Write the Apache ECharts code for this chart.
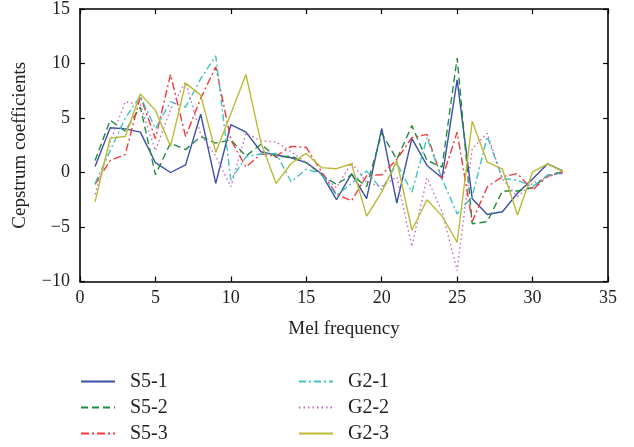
<!DOCTYPE html>
<html>
<head>
<meta charset="utf-8">
<script src="https://cdn.jsdelivr.net/npm/echarts@6/dist/echarts.min.js"></script>
<style>html,body{margin:0;padding:0;background:#fff}#c{width:634px;height:447px}</style>
</head>
<body>
<div id="c"></div>
<script>
const melFrequency = [1,2,3,4,5,6,7,8,9,10,11,12,13,14,15,16,17,18,19,20,21,22,23,24,25,26,27,28,29,30,31,32];
const seriesNames = ['S5-1','S5-2','S5-3','G2-1','G2-2','G2-3'];
const s51 = [0.55,4.1,4.0,3.7,0.9,0.0,0.7,5.35,-1.0,4.4,3.7,1.9,1.6,1.35,0.9,-0.1,-2.5,-0.1,-2.4,4.05,-2.8,3.1,0.65,-0.5,8.5,-2.4,-3.85,-3.6,-1.9,-0.6,0.8,0.15];
const s52 = [1.1,4.8,3.8,6.0,-0.2,2.7,2.1,3.3,2.7,3.0,1.5,2.6,1.4,1.5,0.9,-0.2,-1.1,-0.2,-1.3,3.6,1.2,4.3,1.1,0.5,10.5,-4.7,-4.5,-1.7,-1.7,-1.4,-0.25,0.05];
const s53 = [-1.1,1.1,1.65,7.0,3.1,9.0,3.3,6.8,9.7,3.0,0.5,1.7,1.5,2.4,2.3,0.1,-2.0,-2.6,-0.3,-0.2,1.2,3.2,3.5,-0.6,3.7,-4.5,-1.3,-0.4,-0.1,-1.6,-0.35,0.05];
const g21 = [-1.0,2.0,5.0,7.0,4.0,6.5,6.0,8.6,10.7,-0.7,1.45,1.7,1.75,-0.85,0.3,-0.1,-2.1,-1.0,0.15,-1.6,0.85,-1.8,3.2,-0.6,-3.8,-2.2,3.3,-0.55,-0.7,-1.3,-0.25,-0.1];
const g22 = [-2.0,2.8,6.5,6.2,2.0,5.8,8.3,3.5,1.5,-1.3,3.6,2.9,2.8,1.9,0.9,-0.1,-1.4,0.9,-0.9,-1.3,-0.4,-6.8,-0.5,-3.6,-9.0,2.2,3.6,-0.6,-2.2,-1.0,-0.4,0.0];
const g23 = [-2.7,3.15,3.3,7.2,5.7,2.4,8.2,7.1,1.85,5.4,9.0,2.7,-1.0,0.85,1.75,0.45,0.35,0.8,-4.0,-1.8,1.1,-5.3,-2.5,-4.0,-6.4,4.7,0.95,0.3,-3.9,0.05,0.8,0.1];
const xTicks = [0,5,10,15,20,25,30,35];
const yTicks = [-10,-5,0,5,10,15];

const allValues = [s51,s52,s53,g21,g22,g23];
const colors = ['#3a4fa6','#228a3e','#f0393c','#3cc3c3','#c266c6','#bcb935'];
const dashes = ['solid',[7,4],[8,3,2,3],[7,3,2,3],[1.5,3],'solid'];
const FONT = '"Liberation Serif", "Times New Roman", serif';

const series = seriesNames.map((n,k)=>({
  name:n, type:'line', symbol:'none', showSymbol:false,
  data: melFrequency.map((x,i)=>[x, allValues[k][i]]),
  lineStyle:{color:colors[k], width:1.4, type:dashes[k]},
  itemStyle:{color:colors[k]},
  emphasis:{disabled:true}, animation:false, z:2+k
}));

const axisLine = {show:true, onZero:false, lineStyle:{color:'#000', width:1.6}};
const tick = {show:true, inside:true, length:5, lineStyle:{color:'#000', width:1.2}};
const legendBase = {orient:'vertical', top:371, padding:0, itemWidth:34, itemHeight:14, itemGap:5,
  itemStyle:{opacity:0}, selectedMode:false,
  textStyle:{fontFamily:FONT, fontSize:20, color:'#222', lineHeight:21, padding:[0,0,0,10]}};
const chart = echarts.init(document.getElementById('c'), null, {renderer:'canvas'});
chart.setOption({
  animation:false,
  backgroundColor:'#fff',
  grid:{left:80, right:26, top:9, bottom:165.5, show:false},
  legend:[
    Object.assign({}, legendBase, {data:seriesNames.slice(0,3), left:80}),
    Object.assign({}, legendBase, {data:seriesNames.slice(3), left:298})
  ],
  xAxis:[
    {type:'value', min:xTicks[0], max:xTicks[xTicks.length-1], interval:5, position:'bottom',
     name:'Mel frequency', nameLocation:'middle', nameGap:38,
     nameTextStyle:{fontFamily:FONT, fontSize:19, color:'#222'},
     axisLine:axisLine, axisTick:tick,
     axisLabel:{fontFamily:FONT, fontSize:18, color:'#222', margin:8}, splitLine:{show:false}},
    {type:'value', min:xTicks[0], max:xTicks[xTicks.length-1], interval:5, position:'top',
     axisLine:axisLine, axisTick:tick,
     axisLabel:{show:false}, splitLine:{show:false}}
  ],
  yAxis:[
    {type:'value', min:yTicks[0], max:yTicks[yTicks.length-1], interval:5, position:'left',
     name:'Cepstrum coefficients', nameLocation:'middle', nameGap:50, nameRotate:90,
     nameTextStyle:{fontFamily:FONT, fontSize:19, color:'#222'},
     axisLine:axisLine, axisTick:tick,
     axisLabel:{fontFamily:FONT, fontSize:18, color:'#222', margin:10,
       formatter:v=> v<0 ? '\u2212'+Math.abs(v) : String(v)}, splitLine:{show:false}},
    {type:'value', min:yTicks[0], max:yTicks[yTicks.length-1], interval:5, position:'right',
     axisLine:axisLine, axisTick:tick,
     axisLabel:{show:false}, splitLine:{show:false}}
  ],
  series:series
});
</script>
</body>
</html>
